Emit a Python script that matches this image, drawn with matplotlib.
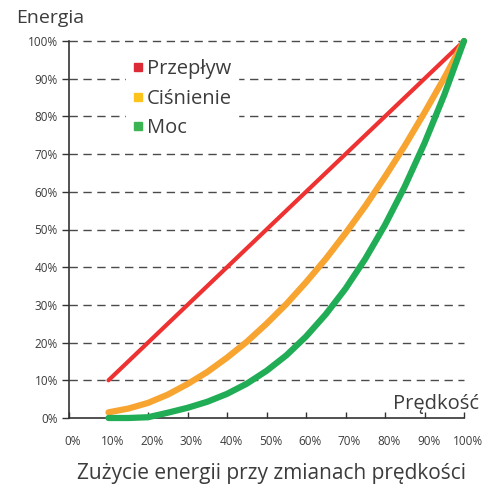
import matplotlib
matplotlib.use("Agg")
import matplotlib.pyplot as plt
import matplotlib.transforms as mtransforms
from matplotlib.lines import Line2D

# speed (%) and energy (%)
speed = [10, 15, 20, 25, 30, 35, 40, 45, 50, 55, 60, 65, 70, 75, 80, 85, 90, 95, 100]
flow = [10, 15, 20, 25, 30, 35, 40, 45, 50, 55, 60, 65, 70, 75, 80, 85, 90, 95, 100]
pressure = [1.5, 2.5, 4, 6.2, 9, 12.2, 16, 20.2, 25, 30.2, 36, 42.2, 49, 56.2,
            64, 72.2, 81, 90.2, 100]
power = [0, 0, 0.2, 1.4, 2.7, 4.3, 6.4, 9.1, 12.5, 16.6, 21.6, 27.5, 34.3,
         42.2, 51.2, 61.4, 72.9, 85.7, 100]

labels = ["Przepływ", "Ciśnienie", "Moc"]
line_colors = ["#ee3131", "#f7a431", "#20ad55"]
legend_colors = ["#dc2a36", "#fcc31d", "#3db452"]
tick_vals = list(range(0, 101, 10))
tick_labels = [f"{v}%" for v in tick_vals]


def main():
    plt.rcParams["font.family"] = ["Open Sans", "DejaVu Sans"]
    text_col = "#3c3c3c"

    fig = plt.figure(figsize=(4.94, 4.88), dpi=100)
    ax = fig.add_axes([69 / 494, 1 - 418 / 488, 395 / 494, 377 / 488])

    ax.set_xlim(0, 100)
    ax.set_ylim(0, 100)

    # dashed horizontal grid
    for v in tick_vals[1:]:
        ax.plot([0, 100], [v, v], color="#4a4a4a", lw=1.0,
                dashes=(6, 4), zorder=1, clip_on=False)

    widths = [3.0, 4.5, 4.5]
    for series, col, lw in zip([flow, pressure, power], line_colors, widths):
        ax.plot(speed, series, color=col, lw=lw, solid_capstyle="round",
                solid_joinstyle="round", zorder=3, clip_on=False)

    for s in ["top", "right"]:
        ax.spines[s].set_visible(False)
    for s in ["left", "bottom"]:
        ax.spines[s].set_color("#333333")
        ax.spines[s].set_linewidth(1.2)

    ax.set_xticks(tick_vals)
    ax.set_xticklabels(tick_labels)
    ax.set_yticks(tick_vals)
    ax.set_yticklabels(tick_labels)
    ax.tick_params(axis="x", direction="in", length=4, width=1, pad=12,
                   colors="#333333", labelsize=8.5, labelcolor=text_col)
    ax.tick_params(axis="y", direction="out", length=5, width=1, pad=3,
                   colors="#333333", labelsize=8.5, labelcolor=text_col)
    offset = mtransforms.ScaledTranslation(4 / 100, 0, fig.dpi_scale_trans)
    for lab in ax.get_xticklabels():
        lab.set_transform(lab.get_transform() + offset)

    handles = [Line2D([], [], marker="s", linestyle="none", markersize=6,
                      markerfacecolor=c, markeredgecolor=c)
               for c in legend_colors]
    leg = ax.legend(handles, labels, loc="upper left",
                    bbox_to_anchor=(0.12, 0.995), frameon=True, fontsize=14.5,
                    handlelength=0.5, handletextpad=0.2, labelspacing=0.48,
                    borderpad=0.3, labelcolor=text_col)
    leg.get_frame().set_facecolor("white")
    leg.get_frame().set_edgecolor("white")
    leg.get_frame().set_alpha(1)
    leg.set_zorder(2)

    fig.text(16 / 494, 1 - 18 / 488, "Energia", fontsize=14, color=text_col,
             ha="left", va="center")
    fig.text(479 / 494, 1 - 404 / 488, "Prędkość", fontsize=14.5,
             color=text_col, ha="right", va="center")
    fig.text(271 / 494, 1 - 474 / 488,
             "Zużycie energii przy zmianach prędkości", fontsize=15,
             color=text_col, ha="center", va="center")

    fig.savefig("out.png", dpi=100)


if __name__ == "__main__":
    main()
